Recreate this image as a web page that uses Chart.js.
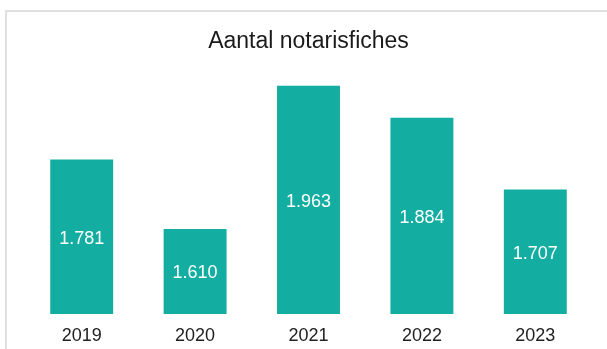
<!DOCTYPE html>
<html>
<head>
<meta charset="utf-8">
<script src="https://cdn.jsdelivr.net/npm/chart.js@4/dist/chart.umd.min.js"></script>
<style>
  html, body { margin: 0; padding: 0; background: #fff; }
  #wrap { position: relative; width: 607px; height: 349px; overflow: hidden; }
  #frame { position: absolute; left: 5px; top: 10px; width: 640px; height: 400px; border: 2px solid #e0e0e0; box-sizing: border-box; }
  canvas { position: absolute; left: 0; top: 0; }
</style>
</head>
<body>
<div id="wrap">
  <div id="frame"></div>
  <canvas id="c" width="607" height="349"></canvas>
</div>
<script>
const title = 'Aantal notarisfiches';
const years = ['2019', '2020', '2021', '2022', '2023'];
const counts = [1781, 1610, 1963, 1884, 1707];

const barColor = '#14ADA1';
const fontFamily = '"Liberation Sans", Arial, sans-serif';

function fmt(v) {
  const s = String(v);
  return s.length > 3 ? s.slice(0, s.length - 3) + '.' + s.slice(-3) : s;
}

const valueLabels = {
  id: 'valueLabels',
  afterDatasetsDraw(chart) {
    const ctx = chart.ctx;
    const meta = chart.getDatasetMeta(0);
    const ds = chart.data.datasets[0].data;
    const bottom = chart.chartArea.bottom;
    ctx.save();
    ctx.fillStyle = '#ffffff';
    ctx.font = '18px ' + fontFamily;
    ctx.textAlign = 'center';
    ctx.textBaseline = 'middle';
    meta.data.forEach((bar, i) => {
      const y = (bar.y + Math.min(bar.base, bottom)) / 2;
      ctx.fillText(fmt(ds[i]), bar.x, y + 2);
    });
    ctx.restore();
  }
};

new Chart(document.getElementById('c'), {
  type: 'bar',
  data: {
    labels: years,
    datasets: [{
      data: counts,
      backgroundColor: barColor,
      borderWidth: 0,
      barPercentage: 0.555,
      categoryPercentage: 1
    }]
  },
  options: {
    responsive: false,
    animation: false,
    devicePixelRatio: 1,
    layout: { padding: { left: 25, right: 15, top: 0, bottom: 0 } },
    plugins: {
      legend: { display: false },
      tooltip: { enabled: false },
      title: {
        display: true,
        text: title,
        color: '#1a1a1a',
        font: { family: fontFamily, size: 23, weight: 'normal' },
        padding: { top: 28, bottom: 14 }
      }
    },
    scales: {
      x: {
        grid: { display: false, drawTicks: false },
        border: { display: false },
        ticks: { color: '#222', font: { family: fontFamily, size: 18 }, padding: 11 },
        afterFit(scale) { scale.height = 35; }
      },
      y: {
        display: false,
        min: 1400,
        max: 2003
      }
    }
  },
  plugins: [valueLabels]
});
</script>
</body>
</html>
